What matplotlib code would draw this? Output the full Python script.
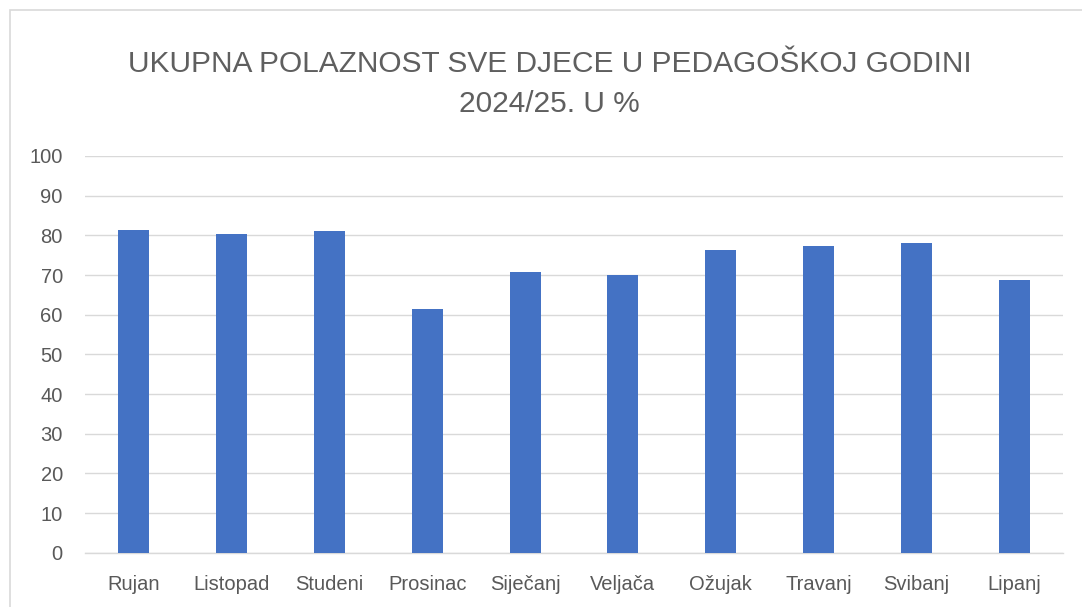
import matplotlib.pyplot as plt
from matplotlib.patches import Rectangle

# Podaci
mjeseci = ['Rujan', 'Listopad', 'Studeni', 'Prosinac', 'Siječanj',
           'Veljača', 'Ožujak', 'Travanj', 'Svibanj', 'Lipanj']
polaznost = [81.4, 80.3, 81.0, 61.5, 70.8, 70.1, 76.4, 77.3, 78.0, 68.8]
y_ticks = [0, 10, 20, 30, 40, 50, 60, 70, 80, 90, 100]

plt.rcParams['font.family'] = ['Liberation Sans', 'DejaVu Sans']

fig = plt.figure(figsize=(10.82, 6.07), dpi=100)
ax = fig.add_axes([0.0786, 0.0894, 0.9038, 0.6536])

x = range(len(mjeseci))
ax.bar(x, polaznost, width=0.316, color='#4472C4', zorder=3)

ax.set_xlim(-0.5, len(mjeseci) - 0.5)
ax.set_ylim(0, 100)
ax.set_yticks(y_ticks)
ax.set_xticks(list(x))
ax.set_xticklabels(mjeseci)
ax.tick_params(axis='both', length=0, colors='#595959', labelsize=14.5)
ax.tick_params(axis='x', pad=16)
ax.tick_params(axis='y', pad=16)
ax.grid(axis='y', color='#d9d9d9', linewidth=1, zorder=0)
for s in ['top', 'right', 'left']:
    ax.spines[s].set_visible(False)
ax.spines['bottom'].set_color('#d9d9d9')
ax.spines['bottom'].set_linewidth(1)

fig.text(0.508, 0.895, 'UKUPNA POLAZNOST SVE DJECE U PEDAGOŠKOJ GODINI',
         ha='center', va='center', fontsize=21.5, color='#5f5f5f')
fig.text(0.508, 0.828, '2024/25. U %',
         ha='center', va='center', fontsize=21.5, color='#5f5f5f')

# okvir grafikona
fig.patches.append(Rectangle((10 / 1082, -0.01), 1.1, 1 - 10 / 607 + 0.01,
                             transform=fig.transFigure, fill=False,
                             edgecolor='#d9d9d9', linewidth=1.2))

plt.savefig('out.png', dpi=100)
